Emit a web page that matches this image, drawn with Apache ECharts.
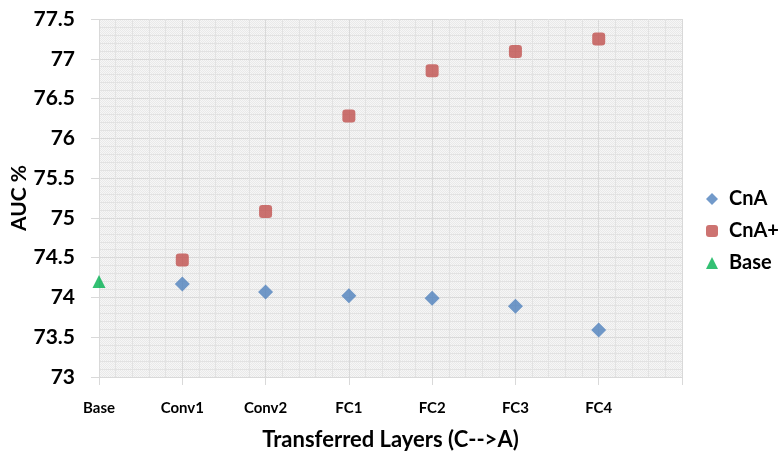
<!DOCTYPE html>
<html>
<head>
<meta charset="utf-8">
<script src="https://cdn.jsdelivr.net/npm/echarts@6/dist/echarts.min.js"></script>
<style>
  html, body { margin: 0; padding: 0; background: #ffffff; }
  #chart { width: 779px; height: 455px; }
</style>
</head>
<body>
<div id="chart"></div>
<script>
// Transferred layers along the x axis
const layers = ['Base', 'Conv1', 'Conv2', 'FC1', 'FC2', 'FC3', 'FC4'];
// AUC % per transferred layer
const cnaValues = [null, 74.17, 74.07, 74.02, 73.99, 73.89, 73.59];
const cnaPlusValues = [null, 74.47, 75.08, 76.28, 76.85, 77.09, 77.25];
const baseValues = [74.2, null, null, null, null, null, null];
// y axis range
const yMin = 73, yMax = 77.5, yStep = 0.5;

function toPoints(values) {
  const pts = [];
  values.forEach((v, i) => { if (v !== null) pts.push([i, v]); });
  return pts;
}

// fine checkered fill for the plotting area
const tile = document.createElement('canvas');
tile.width = 2; tile.height = 2;
const tctx = tile.getContext('2d');
tctx.fillStyle = '#f6f6f6'; tctx.fillRect(0, 0, 2, 2);
tctx.fillStyle = '#e9e9e9'; tctx.fillRect(0, 0, 1, 1); tctx.fillRect(1, 1, 1, 1);

const font = 'Lato, "Open Sans", sans-serif';
const chart = echarts.init(document.getElementById('chart'), null, { renderer: 'canvas' });

chart.setOption({
  animation: false,
  backgroundColor: '#ffffff',
  grid: {
    left: 99, right: 97, top: 19, bottom: 78,
    containLabel: false,
    outerBoundsMode: 'none',
    show: true,
    backgroundColor: { image: tile, repeat: 'repeat' },
    borderWidth: 0
  },
  legend: {
    orient: 'vertical',
    left: 701, top: 184,
    itemWidth: 12, itemHeight: 12, itemGap: 12,
    textStyle: { fontFamily: font, fontWeight: 'bold', fontSize: 20, color: '#000', padding: [0, 0, 0, 6] },
    data: [
      { name: 'CnA', icon: 'diamond' },
      { name: 'CnA+', icon: 'roundRect' },
      { name: 'Base', icon: 'triangle' }
    ]
  },
  xAxis: {
    type: 'value',
    min: 0, max: layers.length, interval: 1,
    name: 'Transferred Layers (C-->A)',
    nameLocation: 'middle', nameGap: 52,
    nameMoveOverlap: false,
    nameTextStyle: { fontFamily: font, fontWeight: 'bold', fontSize: 22, color: '#000' },
    axisLine: { show: false },
    axisTick: { show: true, length: 8, lineStyle: { color: '#d9d9d9' } },
    axisLabel: {
      margin: 24,
      fontFamily: font, fontWeight: 'bold', fontSize: 15, color: '#000',
      formatter: v => (layers[v] !== undefined ? layers[v] : '')
    },
    splitLine: { show: true, lineStyle: { color: '#d9d9d9', width: 1 } },
    minorTick: { show: false, splitNumber: 5 },
    minorSplitLine: { show: true, lineStyle: { color: '#e2e2e2', width: 1 } }
  },
  yAxis: {
    type: 'value',
    min: yMin, max: yMax, interval: yStep,
    name: 'AUC %',
    nameLocation: 'middle', nameGap: 69, nameRotate: 90,
    nameMoveOverlap: false,
    nameTextStyle: { fontFamily: font, fontWeight: 'bold', fontSize: 21, color: '#000' },
    axisLine: { show: false },
    axisTick: { show: true, length: 8, lineStyle: { color: '#d9d9d9' } },
    axisLabel: {
      margin: 24,
      fontFamily: font, fontWeight: 'bold', fontSize: 21, color: '#000'
    },
    splitLine: { show: true, lineStyle: { color: '#d9d9d9', width: 1 } },
    minorTick: { show: false, splitNumber: 5 },
    minorSplitLine: { show: true, lineStyle: { color: '#e2e2e2', width: 1 } }
  },
  series: [
    {
      name: 'CnA', type: 'scatter', symbol: 'diamond', symbolSize: 15,
      itemStyle: { color: '#4f81bd' },
      data: toPoints(cnaValues)
    },
    {
      name: 'CnA+', type: 'scatter', symbol: 'roundRect', symbolSize: 13,
      itemStyle: { color: '#c0504d' },
      data: toPoints(cnaPlusValues)
    },
    {
      name: 'Base', type: 'scatter', symbol: 'triangle', symbolSize: 13,
      itemStyle: { color: '#00b050' },
      data: toPoints(baseValues)
    }
  ]
});
</script>
</body>
</html>
